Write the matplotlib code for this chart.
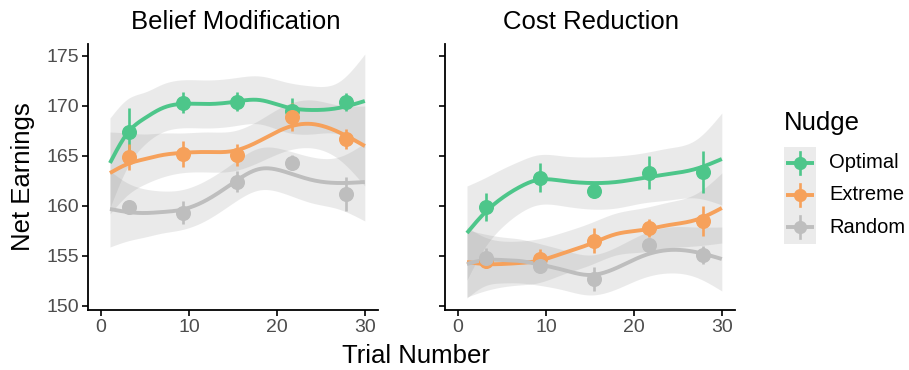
import numpy as np
import matplotlib
matplotlib.use("Agg")
import matplotlib.pyplot as plt

plt.rcParams['font.family'] = ['Liberation Sans', 'DejaVu Sans']

# ---------------- data ----------------
panels = ["Belief Modification", "Cost Reduction"]
nudges = ["Optimal", "Extreme", "Random"]
colors = {"Optimal": "#4DC68A", "Extreme": "#F6A15B", "Random": "#BEBEBE"}

# binned means (points) with error bars
point_x = [3.2, 9.3, 15.5, 21.7, 27.9]
points = {
    "Belief Modification": {
        "Optimal": [167.4, 170.3, 170.4, 169.5, 170.4],
        "Extreme": [164.9, 165.2, 165.1, 168.9, 166.7],
        "Random":  [159.9, 159.3, 162.4, 164.3, 161.2],
    },
    "Cost Reduction": {
        "Optimal": [159.9, 162.8, 161.5, 163.3, 163.4],
        "Extreme": [154.5, 154.7, 156.5, 157.8, 158.5],
        "Random":  [154.8, 154.0, 152.7, 156.1, 155.1],
    },
}
errors = {
    "Belief Modification": {
        "Optimal": [2.4, 1.05, 0.95, 1.3, 0.9],
        "Extreme": [1.3, 1.3, 1.1, 1.4, 1.0],
        "Random":  [0.4, 1.15, 1.05, 0.75, 1.65],
    },
    "Cost Reduction": {
        "Optimal": [1.4, 1.45, 0.6, 1.65, 2.1],
        "Extreme": [0.7, 1.0, 1.25, 0.9, 1.5],
        "Random":  [1.0, 0.5, 1.2, 0.4, 0.95],
    },
}

# smooth fits (read at knots) and half-widths of confidence bands
smooth_x = [1, 3, 5, 7, 9, 12, 15, 18, 21, 24, 27, 30]
smooth_y = {
    "Belief Modification": {
        "Optimal": [164.3, 167.3, 168.8, 169.8, 170.2, 170.2, 170.4, 170.6, 169.9, 169.6, 169.8, 170.5],
        "Extreme": [163.3, 164.2, 164.7, 165.1, 165.3, 165.4, 165.5, 166.5, 167.8, 168.2, 167.4, 166.0],
        "Random":  [159.7, 159.4, 159.3, 159.4, 159.6, 160.6, 162.3, 163.7, 163.4, 162.6, 162.3, 162.4],
    },
    "Cost Reduction": {
        "Optimal": [157.3, 159.3, 160.8, 161.9, 162.6, 162.5, 162.3, 162.4, 162.8, 163.2, 163.7, 164.7],
        "Extreme": [154.4, 154.2, 154.2, 154.3, 154.5, 155.3, 156.2, 157.2, 157.6, 158.1, 158.6, 159.8],
        "Random":  [154.2, 154.6, 154.6, 154.5, 154.2, 153.6, 153.1, 153.8, 155.0, 155.6, 155.4, 154.7],
    },
}
band_hw = {
    "Belief Modification": {
        "Optimal": [4.5, 3.4, 2.6, 2.4, 2.4, 2.4, 2.4, 2.4, 2.5, 2.4, 2.6, 4.7],
        "Extreme": [4.1, 3.1, 2.5, 2.2, 2.0, 2.0, 2.0, 2.1, 2.3, 2.4, 2.7, 4.0],
        "Random":  [3.8, 2.9, 2.4, 2.1, 2.0, 2.0, 2.0, 2.1, 2.2, 2.3, 2.6, 3.9],
    },
    "Cost Reduction": {
        "Optimal": [4.7, 3.5, 2.9, 2.6, 2.5, 2.5, 2.6, 2.6, 2.5, 2.6, 2.9, 4.6],
        "Extreme": [3.5, 2.7, 2.3, 2.2, 2.2, 2.1, 2.1, 2.1, 2.2, 2.3, 2.6, 3.5],
        "Random":  [3.4, 2.6, 2.3, 2.2, 2.1, 2.0, 2.0, 2.1, 2.2, 2.3, 2.5, 3.2],
    },
}
x_ticks = [0, 10, 20, 30]
y_ticks = [150, 155, 160, 165, 170, 175]


def natural_spline(xk, yk, xs):
    xk = np.asarray(xk, float)
    yk = np.asarray(yk, float)
    n = len(xk)
    h = np.diff(xk)
    A = np.zeros((n, n))
    b = np.zeros(n)
    A[0, 0] = 1
    A[-1, -1] = 1
    for i in range(1, n - 1):
        A[i, i - 1] = h[i - 1]
        A[i, i] = 2 * (h[i - 1] + h[i])
        A[i, i + 1] = h[i]
        b[i] = 6 * ((yk[i + 1] - yk[i]) / h[i] - (yk[i] - yk[i - 1]) / h[i - 1])
    M = np.linalg.solve(A, b)
    idx = np.clip(np.searchsorted(xk, xs) - 1, 0, n - 2)
    x0, x1 = xk[idx], xk[idx + 1]
    hh = x1 - x0
    t0 = x1 - xs
    t1 = xs - x0
    return (M[idx] * t0 ** 3 / (6 * hh) + M[idx + 1] * t1 ** 3 / (6 * hh)
            + (yk[idx] / hh - M[idx] * hh / 6) * t0
            + (yk[idx + 1] / hh - M[idx + 1] * hh / 6) * t1)


W, H = 909, 370
fig = plt.figure(figsize=(W / 100, H / 100), dpi=100)


def fx(px):
    return px / W


def fy(py):
    return 1 - py / H


ax_left = [88, 378]
ax_right = [445, 735]
top, bottom = 44, 310
axes = []
for (l, r) in (ax_left, ax_right):
    ax = fig.add_axes([fx(l), fy(bottom), fx(r) - fx(l), (bottom - top) / H])
    axes.append(ax)

xs = np.linspace(smooth_x[0], smooth_x[-1], 300)
for ax, panel in zip(axes, panels):
    for nd in nudges:
        yv = natural_spline(smooth_x, smooth_y[panel][nd], xs)
        hw = natural_spline(smooth_x, band_hw[panel][nd], xs)
        ax.fill_between(xs, yv - hw, yv + hw, color="#999999", alpha=0.2,
                        linewidth=0, zorder=1)
    for nd in nudges:
        yv = natural_spline(smooth_x, smooth_y[panel][nd], xs)
        ax.plot(xs, yv, color=colors[nd], lw=2.8, zorder=2,
                solid_capstyle='butt')
    for nd in nudges:
        ax.errorbar(point_x, points[panel][nd], yerr=errors[panel][nd],
                    fmt='o', color=colors[nd], ms=9.8, elinewidth=1.9,
                    capsize=0, zorder=3)
    ax.set_xlim(-1.5, 31.5)
    ax.set_ylim(149.6, 176.2)
    ax.set_xticks(x_ticks)
    ax.set_yticks(y_ticks)
    for s in ("top", "right"):
        ax.spines[s].set_visible(False)
    for s in ("left", "bottom"):
        ax.spines[s].set_linewidth(1.3)
    ax.tick_params(length=4, width=1.2, colors="black", labelcolor="#4D4D4D",
                   labelsize=14, pad=2.5)
    ax.set_facecolor("white")

axes[1].tick_params(labelleft=False)

# panel titles
fig.text(fx(236), fy(22), panels[0], ha="center", va="center", fontsize=18.5)
fig.text(fx(591), fy(22), panels[1], ha="center", va="center", fontsize=18.5)
fig.text(fx(416), fy(356), "Trial Number", ha="center", va="center", fontsize=18.5)
fig.text(fx(23), fy(177), "Net Earnings", ha="center", va="center",
         fontsize=18.5, rotation=90)

# legend
fig.text(fx(784), fy(123), "Nudge", ha="left", va="center", fontsize=18.5)
lax = fig.add_axes([fx(784), fy(243.5), fx(816) - fx(784), (243.5 - 146.5) / H])
lax.set_xlim(0, 1)
lax.set_ylim(0, 3)
lax.set_facecolor("#EBEBEB")
for s in lax.spines.values():
    s.set_visible(False)
lax.set_xticks([])
lax.set_yticks([])
for i, nd in enumerate(nudges):
    yc = 2.5 - i
    lax.plot([0.05, 0.95], [yc, yc], color=colors[nd], lw=2.8, solid_capstyle='butt')
    lax.plot([0.5, 0.5], [yc - 0.34, yc + 0.34], color=colors[nd], lw=1.9)
    lax.plot([0.5], [yc], 'o', color=colors[nd], ms=8.5)
    fig.text(fx(829), fy(146.5 + (i + 0.5) * 32.3), nd, ha="left", va="center",
             fontsize=14.5)

fig.savefig("out.png", dpi=100)
